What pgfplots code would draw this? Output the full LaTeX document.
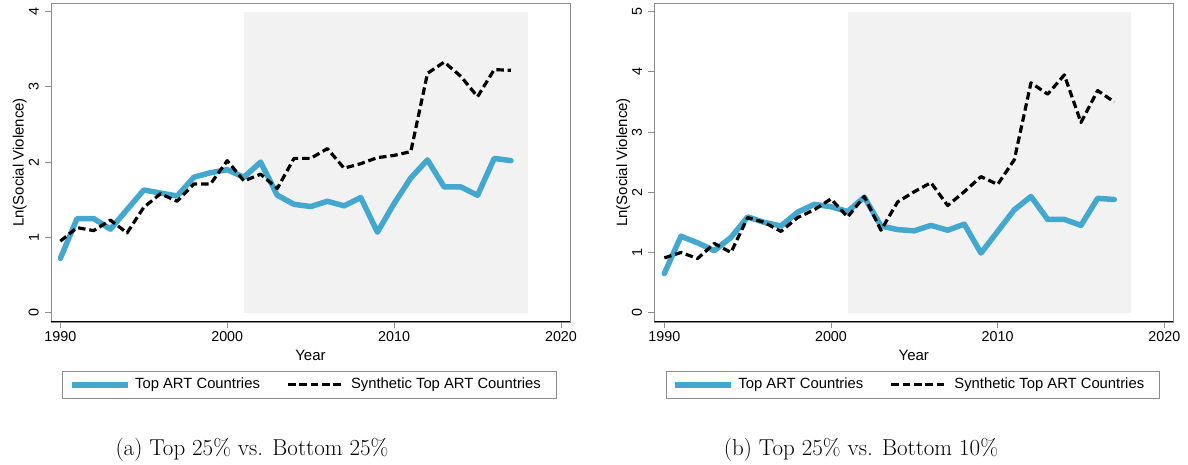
\documentclass[border=0pt]{standalone}
\usepackage{pgfplots}
\pgfplotsset{compat=1.18}
\usepackage{fontspec}
\newfontfamily\arial{Liberation Sans}
\definecolor{artblue}{RGB}{68,168,206}
\definecolor{shade}{RGB}{242,242,242}
\definecolor{framegray}{RGB}{140,140,140}

\pgfplotstableread{
year top syn
1990 0.72 0.95
1991 1.25 1.13
1992 1.25 1.09
1993 1.11 1.23
1994 1.37 1.06
1995 1.63 1.40
1996 1.59 1.58
1997 1.55 1.48
1998 1.80 1.71
1999 1.86 1.71
2000 1.90 2.02
2001 1.80 1.75
2002 2.00 1.84
2003 1.56 1.65
2004 1.44 2.05
2005 1.41 2.05
2006 1.48 2.18
2007 1.42 1.92
2008 1.53 1.98
2009 1.07 2.06
2010 1.45 2.09
2011 1.79 2.14
2012 2.03 3.18
2013 1.67 3.33
2014 1.67 3.14
2015 1.56 2.87
2016 2.05 3.23
2017 2.02 3.22
}\dataA

\pgfplotstableread{
year top syn
1990 0.65 0.91
1991 1.27 1.00
1992 1.16 0.90
1993 1.03 1.15
1994 1.25 1.00
1995 1.59 1.58
1996 1.50 1.50
1997 1.44 1.35
1998 1.67 1.58
1999 1.80 1.71
2000 1.76 1.89
2001 1.68 1.59
2002 1.92 1.93
2003 1.44 1.37
2004 1.38 1.84
2005 1.36 2.01
2006 1.45 2.16
2007 1.37 1.78
2008 1.47 2.01
2009 0.99 2.26
2010 1.35 2.13
2011 1.71 2.54
2012 1.93 3.82
2013 1.55 3.63
2014 1.55 3.95
2015 1.45 3.16
2016 1.90 3.69
2017 1.88 3.50
}\dataB

\pgfplotsset{
  stata/.style={
    scale only axis, width=519pt, height=319pt,
    axis line style={draw=framegray, line width=0.9pt},
    tick align=outside, major tick length=6pt,
    tick style={draw=framegray, line width=0.9pt},
    xtick={1990,2000,2010,2020},
    xtick pos=bottom, ytick pos=left,
    /pgf/number format/assume math mode=true,
    /pgf/number format/1000 sep={},
    ticklabel style={font=\arial\fontsize{14.3}{16}\selectfont},
    yticklabel style={rotate=90, anchor=south, inner ysep=6pt},
    label style={font=\arial\fontsize{15}{17}\selectfont},
    xlabel={Year}, ylabel={Ln(Social Violence)},
    xlabel style={at={(axis description cs:0.5,-0.1034)}, anchor=center},
    ylabel style={at={(axis description cs:-0.0600,0.5)}, anchor=center},
    legend columns=2,
    legend cell align=left,
    legend image code/.code={\draw[##1, line cap=butt] (0pt,0pt) -- (56pt,0pt); \path[draw=none, fill=none] (0pt,0pt) -- (63pt,0pt);},
    legend style={draw=framegray, line width=0.8pt,
      font=\arial\fontsize{14.8}{17}\selectfont,
      anchor=north west,
      inner xsep=6.7pt, inner ysep=6.8pt,
      nodes={inner sep=0pt, text height=10.6pt, text depth=3.2pt},
      /tikz/every even column/.append style={column sep=26.6pt}},
    toplin/.style={draw=artblue, line width=5.5pt, line join=round, line cap=round},
    synlin/.style={draw=black, line width=3.2pt, dash pattern=on 7.5pt off 3.8pt, line join=round},
  }
}

\begin{document}
\begin{tikzpicture}
\useasboundingbox (0,0) rectangle (1188pt,465pt);

\begin{axis}[stata, at={(51pt,143pt)}, anchor=south west,
  xmin=1989.44, xmax=2020.54, ymin=-0.124, ymax=4.115,
  ytick={0,1,2,3,4},
  legend style={at={(axis description cs:0.0218,-0.1527)}}]
\addplot[fill=shade, draw=none, forget plot] coordinates {(2001,0) (2018,0) (2018,4) (2001,4)} -- cycle;
\addplot[toplin] table[x=year, y=top] {\dataA};
\addlegendentry{Top ART Countries}
\addplot[synlin] table[x=year, y=syn] {\dataA};
\addlegendentry{Synthetic Top ART Countries\rule{9pt}{0pt}}
\draw[black, line width=1.2pt] (rel axis cs:0,0) -- (rel axis cs:1,0);
\end{axis}

\begin{axis}[stata, at={(654.3pt,143pt)}, anchor=south west,
  xmin=1989.40, xmax=2020.54, ymin=-0.155, ymax=5.145,
  ytick={0,1,2,3,4,5},
  legend style={at={(axis description cs:0.0218,-0.1527)}}]
\addplot[fill=shade, draw=none, forget plot] coordinates {(2001,0) (2018,0) (2018,5) (2001,5)} -- cycle;
\addplot[toplin] table[x=year, y=top] {\dataB};
\addlegendentry{Top ART Countries}
\addplot[synlin] table[x=year, y=syn] {\dataB};
\addlegendentry{Synthetic Top ART Countries\rule{9pt}{0pt}}
\draw[black, line width=1.2pt] (rel axis cs:0,0) -- (rel axis cs:1,0);
\end{axis}

\node[anchor=base, font=\fontsize{23}{27}\selectfont] at (252pt,9pt) {(a) Top 25\% vs. Bottom 25\%};
\node[anchor=base, font=\fontsize{23}{27}\selectfont] at (861pt,9pt) {(b) Top 25\% vs. Bottom 10\%};
\end{tikzpicture}
\end{document}
